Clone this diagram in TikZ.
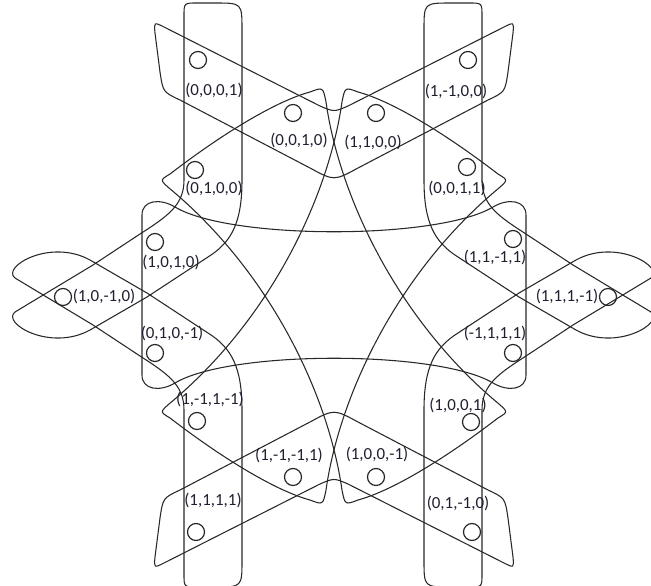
\documentclass[tikz,border=0pt]{standalone}
\usepackage{fontspec}
\setmainfont{Carlito}
\definecolor{labcol}{RGB}{30,32,48}
\definecolor{linecol}{RGB}{40,40,40}
\newcommand{\edgeA}{(320,106) .. controls (334,112) .. (348,106) -- (504,27) .. controls (514,22) .. (513,33) -- (508,72) .. controls (505,92) .. (488,100) -- (358,168) .. controls (334,181) .. (310,168) -- (180,100) .. controls (163,92) .. (160,72) -- (155,33) .. controls (154,22) .. (164,27) -- cycle}
\newcommand{\edgeB}{(170,174) .. controls (230,128) and (280,100) .. (310,92) .. controls (323,87) .. (326,102) .. controls (340,200) and (400,322) .. (499,404) .. controls (508,412) .. (498,418) .. controls (438,464) and (388,492) .. (358,500) .. controls (345,505) .. (342,490) .. controls (328,392) and (268,270) .. (169,188) .. controls (160,180) .. (170,174) -- cycle}
\newcommand{\edgeC}{(90,330) .. controls (50,352) and (1,323) .. (15,312) -- (93,265) -- (140,234) .. controls (168,216) and (184,205) .. (184,180) -- (184,16) .. controls (184,3) .. (197,3) -- (215,3) .. controls (242,3) .. (242,30) -- (242,180) .. controls (242,222) and (232,242) .. (208,257) -- (147,297) -- cycle}
\newcommand{\edgeD}{(142,300) -- (142,215) .. controls (142,200) and (160,198) .. (175,207) .. controls (230,240) and (438,240) .. (493,207) .. controls (508,198) and (526,200) .. (526,215) -- (526,375) .. controls (526,390) and (508,392) .. (493,383) .. controls (438,350) and (230,350) .. (175,383) .. controls (160,392) and (142,390) .. (142,375) -- cycle}
\begin{document}
\begin{tikzpicture}[x=0.75pt,y=-0.75pt,
  edge/.style={draw=linecol, line width=0.8pt},
  vtx/.style={circle, draw=linecol, line width=0.9pt, minimum size=12.75pt, inner sep=0pt},
  lab/.style={font=\fontsize{12.7}{15}\selectfont, text=labcol, inner sep=0pt}]
\useasboundingbox (0,0) rectangle (651,586);
% hyperedges
\draw[edge] \edgeA;
\begin{scope}[shift={(0,590)},yscale=-1] \draw[edge] \edgeA; \end{scope}
\draw[edge] \edgeB;
\begin{scope}[shift={(668,0)},xscale=-1] \draw[edge] \edgeB; \end{scope}
\draw[edge] \edgeC;
\begin{scope}[shift={(0,590)},yscale=-1] \draw[edge] \edgeC; \end{scope}
\begin{scope}[shift={(666,0)},xscale=-1] \draw[edge] \edgeC; \end{scope}
\begin{scope}[shift={(666,590)},xscale=-1,yscale=-1] \draw[edge] \edgeC; \end{scope}
\draw[edge] \edgeD;
% vertices
\node[vtx] (a) at (198,60) {};
\node[vtx] (b) at (293,113) {};
\node[vtx] (c) at (195,170) {};
\node[vtx] (d) at (468,60) {};
\node[vtx] (e) at (376,113) {};
\node[vtx] (f) at (467,167) {};
\node[vtx] (g) at (155,242) {};
\node[vtx] (h) at (63,297) {};
\node[vtx] (i) at (155,353) {};
\node[vtx] (j) at (513,239) {};
\node[vtx] (k) at (608,297) {};
\node[vtx] (l) at (513,353) {};
\node[vtx] (m) at (197,421) {};
\node[vtx] (n) at (293,477) {};
\node[vtx] (o) at (196,532) {};
\node[vtx] (p) at (471,422) {};
\node[vtx] (q) at (376,477) {};
\node[vtx] (r) at (472,532) {};
% labels
\node[lab] (la) at (214,90) {(0,0,0,1)};
\node[lab] (lb) at (299,140) {(0,0,1,0)};
\node[lab] (lc) at (214,188) {(0,1,0,0)};
\node[lab] (ld) at (456,91) {(1,-1,0,0)};
\node[lab] (le) at (373,142) {(1,1,0,0)};
\node[lab] (lf) at (457,188) {(0,0,1,1)};
\node[lab] (lg) at (171,262) {(1,0,1,0)};
\node[lab] (lh) at (104,296) {(1,0,-1,0)};
\node[lab] (li) at (172,333) {(0,1,0,-1)};
\node[lab] (lj) at (495,257) {(1,1,-1,1)};
\node[lab] (lk) at (567,296) {(1,1,1,-1)};
\node[lab] (ll) at (495,333) {(-1,1,1,1)};
\node[lab] (lm) at (210,399) {(1,-1,1,-1)};
\node[lab] (ln) at (289,455) {(1,-1,-1,1)};
\node[lab] (lo) at (213,500) {(1,1,1,1)};
\node[lab] (lp) at (458,405) {(1,0,0,1)};
\node[lab] (lq) at (377,454) {(1,0,0,-1)};
\node[lab] (lr) at (458,503) {(0,1,-1,0)};
\end{tikzpicture}
\end{document}
